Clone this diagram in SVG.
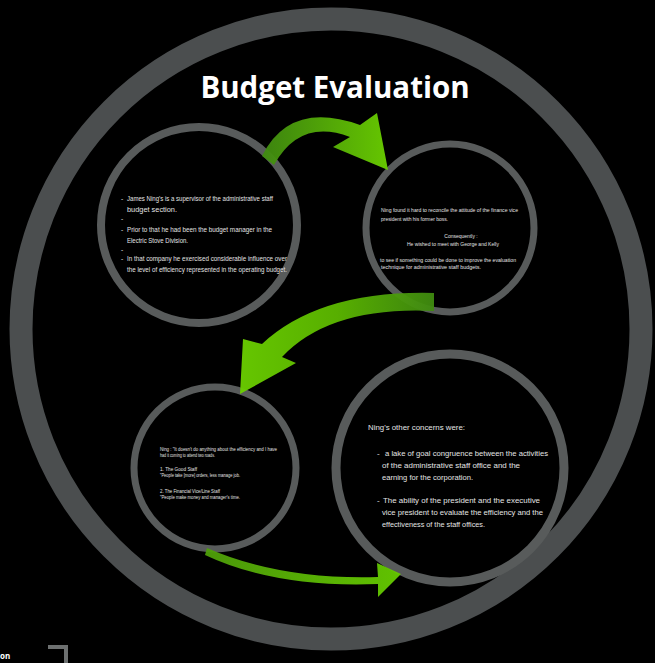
<svg xmlns="http://www.w3.org/2000/svg" width="655" height="663" viewBox="0 0 655 663">
<defs>
<linearGradient id="g1" x1="0" y1="0" x2="1" y2="0"><stop offset="0" stop-color="#3f8a10"/><stop offset="1" stop-color="#6bd000"/></linearGradient>
<linearGradient id="g2" x1="1" y1="0" x2="0" y2="0"><stop offset="0" stop-color="#3f8a10"/><stop offset="0.5" stop-color="#5cb800"/><stop offset="1" stop-color="#6bd000"/></linearGradient>
<linearGradient id="g3" x1="0" y1="0" x2="1" y2="0"><stop offset="0" stop-color="#4e9e0a"/><stop offset="1" stop-color="#66cc00"/></linearGradient>
</defs>
<style>
.ring{fill:none;stroke:#585b5b}
.t{font-family:"Liberation Sans",Arial,sans-serif;fill:#e4e4e4}
.title{font-family:"Open Sans","Liberation Sans",sans-serif;font-weight:bold;fill:#ffffff;font-size:29.5px}
.arrow{opacity:0.95}
</style>
<rect width="655" height="663" fill="#000"/>
<g id="frame">
<circle cx="331" cy="329" r="310" fill="none" stroke="#4b4e4f" stroke-width="23"/>
<text class="title" x="335" y="98" text-anchor="middle">Budget Evaluation</text>
</g>
<g id="node1">
<circle class="ring" cx="199" cy="225" r="98" stroke-width="8"/>
<g class="t" font-size="6.5">
<text x="121" y="201">-</text><text x="127" y="201" textLength="146" lengthAdjust="spacingAndGlyphs">James Ning's is a supervisor of the administrative staff</text>
<text x="127" y="212" textLength="50" lengthAdjust="spacingAndGlyphs">budget section.</text>
<text x="121" y="221">-</text>
<text x="121" y="232">-</text><text x="127" y="232" textLength="145" lengthAdjust="spacingAndGlyphs">Prior to that he had been the budget manager in the</text>
<text x="127" y="243" textLength="61" lengthAdjust="spacingAndGlyphs">Electric Stove Division.</text>
<text x="121" y="252">-</text>
<text x="121" y="261">-</text><text x="127" y="261" textLength="160" lengthAdjust="spacingAndGlyphs">In that company he exercised considerable influence over</text>
<text x="127" y="272" textLength="160" lengthAdjust="spacingAndGlyphs">the level of efficiency represented in the operating budget.</text>
</g>
</g>
<g id="node2">
<circle class="ring" cx="450" cy="228" r="84" stroke-width="7"/>
<g class="t" font-size="5">
<text x="381" y="212" textLength="137" lengthAdjust="spacingAndGlyphs">Ning found it hard to reconcile the attitude of the finance vice</text>
<text x="381" y="221" textLength="67" lengthAdjust="spacingAndGlyphs">president with his former boss.</text>
<text x="461" y="238" text-anchor="middle">Consequently :</text>
<text x="407" y="246" textLength="92" lengthAdjust="spacingAndGlyphs">He wished to meet with George and Kelly</text>
<text x="380" y="262" textLength="136" lengthAdjust="spacingAndGlyphs">to see if something  could be done to improve the evaluation</text>
<text x="381" y="269" textLength="100" lengthAdjust="spacingAndGlyphs">technique for administrative staff budgets.</text>
</g>
</g>
<g id="node3">
<circle class="ring" cx="215" cy="468" r="81" stroke-width="7"/>
<g class="t" font-size="4.5">
<text x="160" y="451" textLength="117" lengthAdjust="spacingAndGlyphs">Ning : "It doesn't do anything about the efficiency and I have</text>
<text x="160" y="457" textLength="55" lengthAdjust="spacingAndGlyphs">had it coming to attend two roads.</text>
<text x="160" y="471" textLength="37" lengthAdjust="spacingAndGlyphs">1. The Good Staff</text>
<text x="160" y="477" textLength="80" lengthAdjust="spacingAndGlyphs">"People take [more] orders, less manage job.</text>
<text x="160" y="493" textLength="60" lengthAdjust="spacingAndGlyphs">2. The Financial Vice/Line Staff</text>
<text x="160" y="499" textLength="80" lengthAdjust="spacingAndGlyphs">"People make money and manager's time.</text>
</g>
</g>
<g id="node4">
<circle class="ring" cx="450" cy="468" r="114" stroke-width="9"/>
<g class="t" font-size="8">
<text x="368" y="430" textLength="97" lengthAdjust="spacingAndGlyphs">Ning's other concerns  were:</text>
<text x="377" y="456">-</text><text x="385" y="456" textLength="163" lengthAdjust="spacingAndGlyphs">a lake of goal congruence between the activities</text>
<text x="382" y="468" textLength="138" lengthAdjust="spacingAndGlyphs">of the administrative staff office  and the</text>
<text x="382" y="480" textLength="91" lengthAdjust="spacingAndGlyphs">earning for the corporation.</text>
<text x="377" y="503">-</text><text x="383" y="503" textLength="157" lengthAdjust="spacingAndGlyphs">The ability of the president and the executive</text>
<text x="382" y="515" textLength="161" lengthAdjust="spacingAndGlyphs">vice president to evaluate the efficiency and the</text>
<text x="382" y="527" textLength="103" lengthAdjust="spacingAndGlyphs">effectiveness of the staff offices.</text>
</g>
</g>
<g id="connectors">
<path class="arrow" fill="url(#g1)" d="M262,156 Q290,100 360,125 L377,113 L388,170 L333,147 L350,137 Q300,118 274,165 Z"/>
<path class="arrow" fill="url(#g2)" d="M434,293 Q320,290 262,344 L243,339 L240,394 L296,363 L282,357 Q330,306 434,311 Z"/>
<path class="arrow" fill="url(#g3)" d="M207,548 Q280,580 378,577 L377,563 L401,574 L378,597 L378,584 Q275,588 205,555 Z"/>
</g>
<g id="corner">
<text x="0" y="659" font-family="Open Sans,Liberation Sans,sans-serif" font-weight="bold" font-size="8" fill="#fff">on</text>
<path d="M48,647 H66 V663" fill="none" stroke="#6d7070" stroke-width="4"/>
</g>
</svg>
